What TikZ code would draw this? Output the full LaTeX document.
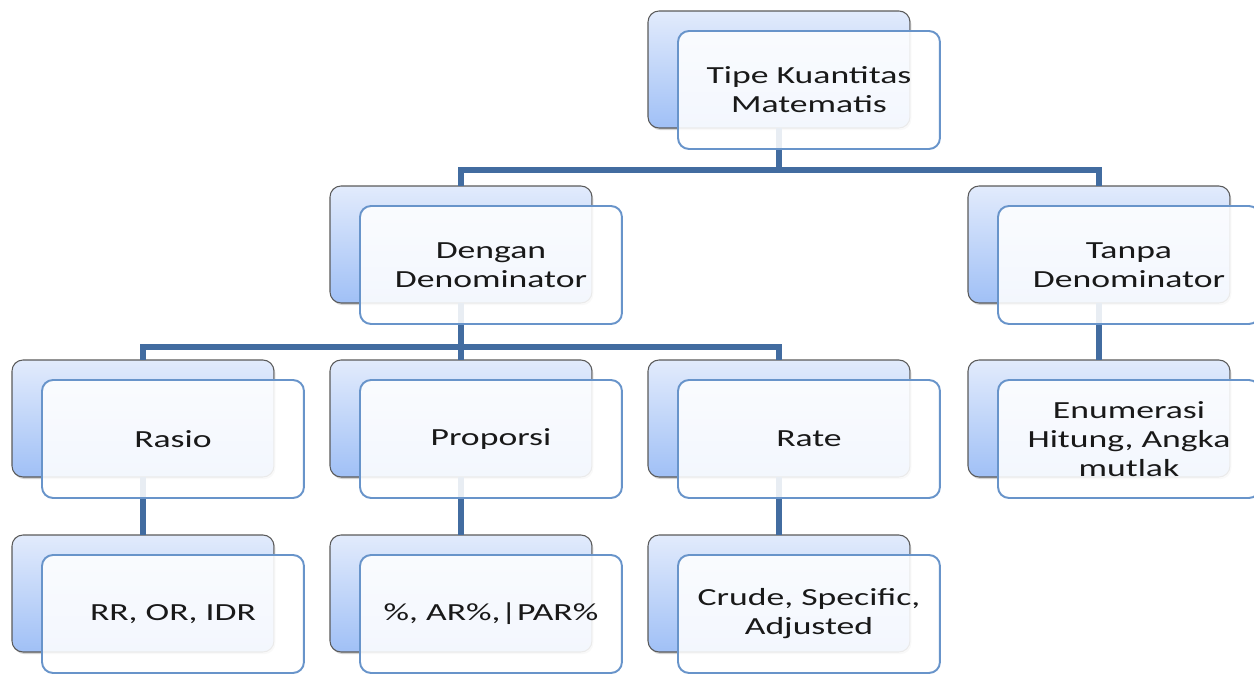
\documentclass[tikz,border=0pt]{standalone}
\usepackage{fontspec}
\setmainfont{Carlito}
\usetikzlibrary{shadows}
\definecolor{linkblue}{RGB}{66,108,160}
\definecolor{backtop}{RGB}{226,235,252}
\definecolor{backbot}{RGB}{160,192,246}
\definecolor{frontline}{RGB}{104,148,202}
\definecolor{backline}{RGB}{90,90,90}

\begin{document}
\begin{tikzpicture}[x=0.02cm, y=-0.02cm,
	backbox/.style={anchor=north west, rounded corners=0.22cm, draw=backline, line width=0.6pt,
		top color=backtop, bottom color=backbot, minimum width=5.24cm, minimum height=2.34cm,
		inner sep=0pt, outer sep=0pt, drop shadow={shadow xshift=0.8pt, shadow yshift=-1.2pt, opacity=0.35}},
	frontbox/.style={anchor=north west, rounded corners=0.22cm, draw=frontline, line width=1.1pt,
		fill=white, fill opacity=0.88, minimum width=5.24cm, minimum height=2.36cm,
		inner sep=0pt, outer sep=0pt},
	boxtext/.style={align=center, font=\fontsize{14}{16.5}\selectfont, text=black!90,
		xscale=1.45, transform shape, inner sep=0pt},
	link/.style={draw=linkblue, line width=0.12cm}]
		\useasboundingbox (0,0) rectangle (1254,673);
		% back layer
		\node[backbox] (tipeB) at (648,11) {};
		\node[backbox] (dengB) at (330,186) {};
		\node[backbox] (tanpaB) at (968,186) {};
		\node[backbox] (rasioB) at (12,360) {};
		\node[backbox] (propB) at (330,360) {};
		\node[backbox] (rateB) at (648,360) {};
		\node[backbox] (enumB) at (968,360) {};
		\node[backbox] (rrB) at (12,535) {};
		\node[backbox] (parB) at (330,535) {};
		\node[backbox] (crudeB) at (648,535) {};
		% connectors
		\coordinate (topbar) at (0,170);
		\coordinate (midbar) at (0,347);
		\draw[link] (tipeB.south) -- (tipeB.south |- topbar) -| (dengB.north);
		\draw[link] (tipeB.south |- topbar) -| (tanpaB.north);
		\draw[link] (dengB.south) -- (dengB.south |- midbar) -| (rasioB.north);
		\draw[link] (dengB.south |- midbar) -| (rateB.north);
		\draw[link] (dengB.south) -- (propB.north);
		\draw[link] (tanpaB.south) -- (enumB.north);
		\draw[link] (rasioB.south) -- (rrB.north);
		\draw[link] (propB.south) -- (parB.north);
		\draw[link] (rateB.south) -- (crudeB.north);
		% front layer
		\node[frontbox] (tipe) at (678,31) {};
		\node[frontbox] (deng) at (360,206) {};
		\node[frontbox] (tanpa) at (998,206) {};
		\node[frontbox] (rasio) at (42,380) {};
		\node[frontbox] (prop) at (360,380) {};
		\node[frontbox] (rate) at (678,380) {};
		\node[frontbox] (enum) at (998,380) {};
		\node[frontbox] (rr) at (42,555) {};
		\node[frontbox] (par) at (360,555) {};
		\node[frontbox] (crude) at (678,555) {};
		% texts
		\node[boxtext] (tipeT) at (tipe) {Tipe Kuantitas\\Matematis};
		\node[boxtext] (dengT) at (deng) {Dengan\\Denominator};
		\node[boxtext] (tanpaT) at (tanpa) {Tanpa\\Denominator};
		\node[boxtext] (rasioT) at (rasio) {Rasio};
		\node[boxtext] (propT) at (prop) {Proporsi};
		\node[boxtext] (rateT) at (rate) {Rate};
		\node[boxtext] (enumT) at (enum) {Enumerasi\\Hitung, Angka\\mutlak};
		\node[boxtext] (rrT) at (rr) {RR, OR, IDR};
		\node[boxtext] (parT) at (par) {\%, AR\%,|PAR\%};
		\node[boxtext] (crudeT) at (crude) {Crude, Specific,\\Adjusted};
	\end{tikzpicture}
\end{document}
